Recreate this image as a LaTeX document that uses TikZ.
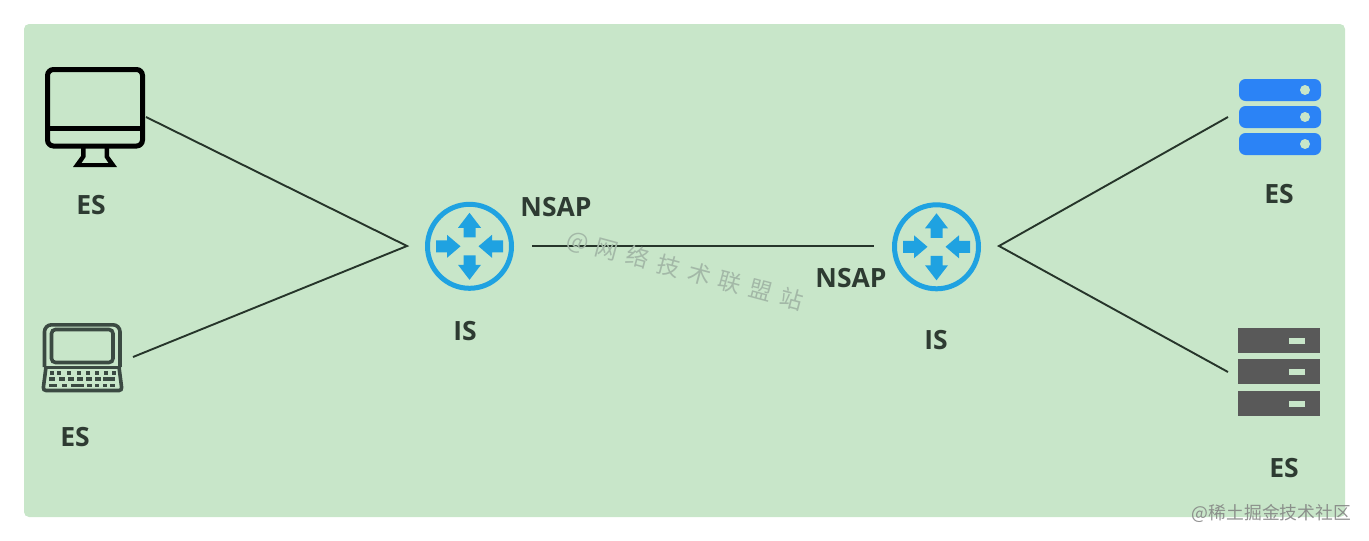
\documentclass[tikz,border=0pt]{standalone}
\usepackage{fontspec}
\setmainfont{Open Sans}
\newfontfamily\cjk{Noto Sans CJK SC}
\definecolor{panel}{HTML}{C8E6C9}
\definecolor{ink}{HTML}{2E3B32}
\definecolor{wire}{HTML}{26352A}
\definecolor{routerblue}{HTML}{1FA2E1}
\definecolor{serverblue}{HTML}{2B83F6}
\definecolor{servergrey}{HTML}{595959}
\definecolor{laptopgrey}{HTML}{3B4A42}
\definecolor{markgrey}{HTML}{A3B8A7}
\tikzset{
  lbl/.style={font=\fontsize{26.5}{30}\selectfont\bfseries, text=ink, inner sep=0pt},
  wireline/.style={draw=wire, line width=1.9pt},
  ringnode/.style={circle, draw=routerblue, line width=5pt, minimum size=84pt, inner sep=0pt},
  arrowfill/.style={fill=routerblue, draw=none},
  keyfill/.style={fill=laptopgrey, draw=none},
}
\newcommand{\routerarrows}[1]{%
  \begin{scope}[shift={(#1)}]
    \foreach \a in {0,180}{
      \fill[arrowfill, rotate=\a] (0,-33.5) -- (11.5,-18.5) -- (6,-18.5) -- (6,-9) -- (-6,-9) -- (-6,-18.5) -- (-11.5,-18.5) -- cycle;
    }
    \foreach \a in {90,270}{
      \fill[arrowfill, rotate=\a] (0,-9) -- (11.5,-22.5) -- (6,-22.5) -- (6,-33.5) -- (-6,-33.5) -- (-6,-22.5) -- (-11.5,-22.5) -- cycle;
    }
  \end{scope}}
\begin{document}
\begin{tikzpicture}[x=1pt,y=-1pt]
\useasboundingbox (0,0) rectangle (1369,541);
\fill[panel, rounded corners=5pt] (24,24) rectangle (1345,517);

% monitor
\draw[black, line width=5pt, rounded corners=6pt] (47.5,69.5) rectangle (142.5,146);
\draw[black, line width=5pt] (47.5,128) -- (142.5,128);
\fill[black] (81,148) -- (85.5,148) -- (85.5,157) -- (81.5,163) -- (108.5,163) -- (104.5,157) -- (104.5,148) -- (109,148) -- (109,156) -- (117,167) -- (73,167) -- (81,156) -- cycle;

% laptop
\draw[laptopgrey, line width=3.6pt, rounded corners=7pt] (44.5,367) -- (44.5,324.8) -- (120,324.8) -- (120,367);
\draw[laptopgrey, line width=3.6pt, rounded corners=4pt] (51.5,329.5) rectangle (113,362.5);
\draw[laptopgrey, line width=3pt] (44.5,367) -- (120,367);
\draw[laptopgrey, line width=3.6pt, rounded corners=3pt] (46,367) -- (43,390.5) -- (122,390.5) -- (119,367);
\foreach \x in {50,57,67,77,86,95,104,112}{\fill[keyfill] (\x-0.5,371) rectangle +(4.5,3.5);}
\foreach \x in {50,60,69,78,87,96,104}{\fill[keyfill] (\x-1,377) rectangle +(5.5,4);}
\fill[keyfill] (49,383.5) rectangle +(8,3.5);
\fill[keyfill] (62,383.5) rectangle +(4.5,3.5);
\fill[keyfill] (71,383.5) rectangle +(13,3.5);
\fill[keyfill] (87,383.5) rectangle +(4.5,3.5);
\fill[keyfill] (95,383.5) rectangle +(4,3.5);
\fill[keyfill] (103,383.5) rectangle +(4,3.5);
\fill[keyfill] (110,383.5) rectangle +(5,3.5);
\fill[keyfill] (109,377) rectangle +(6,4);

% blue server
\foreach \y in {79,106,133}{
  \fill[serverblue, rounded corners=6.5pt] (1239,\y) rectangle (1321,\y+22);
  \fill[panel] (1305,\y+11) circle (5);
}
% grey server
\foreach \y in {328,359,391}{
  \fill[servergrey] (1238,\y) rectangle (1320,\y+25);
  \fill[panel] (1289,\y+10) rectangle (1305,\y+16);
}

% routers
\node[ringnode] (r1) at (469.5,246.3) {};
\node[ringnode] (r2) at (936.5,246.8) {};
\routerarrows{r1}
\routerarrows{r2}

% connector anchors
\coordinate (pc) at (146,117);
\coordinate (lap) at (133,357);
\coordinate (j1) at (407,246);
\coordinate (l1) at (532,246);
\coordinate (l2) at (874,246);
\coordinate (j2) at (999,246);
\coordinate (srvA) at (1228,117);
\coordinate (srvB) at (1228,372);
\draw[wireline] (pc) -- (j1) -- (lap);
\draw[wireline] (l1) -- (l2);
\draw[wireline] (srvA) -- (j2) -- (srvB);

% labels
\node[lbl] (t1) at (91,205.5) {ES};
\node[lbl] (t2) at (75,437.5) {ES};
\node[lbl] (t3) at (1279,194.5) {ES};
\node[lbl] (t4) at (1284,468.5) {ES};
\node[lbl] (t5) at (465,331) {IS};
\node[lbl] (t6) at (936,340) {IS};
\node[lbl] (t7) at (556,207.5) {NSAP};
\node[lbl] (t8) at (851,278.5) {NSAP};

% watermarks
\node[text=markgrey, rotate=-15, inner sep=0pt, font=\cjk\fontsize{23}{26}\selectfont] (w1) at (685,271)
  {@\hspace{7.5pt}网\hspace{9pt}络\hspace{9pt}技\hspace{9pt}术\hspace{9pt}联\hspace{9pt}盟\hspace{9pt}站};
\node[text=black!50, opacity=.85, inner sep=0pt, font=\cjk\fontsize{17.8}{20}\selectfont] (w2) at (1271.5,513)
  {@稀土掘金技术社区};
\end{tikzpicture}
\end{document}
